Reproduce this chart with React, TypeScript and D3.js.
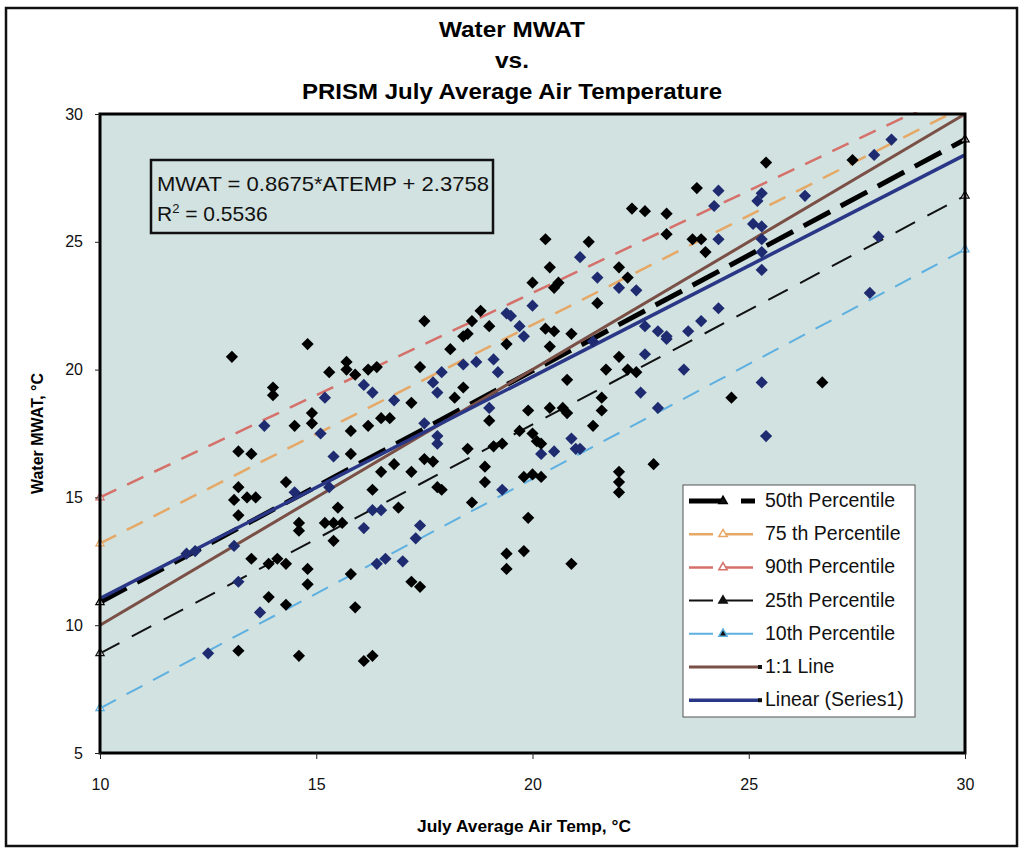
import * as d3 from 'd3';
import React, { useRef, useEffect } from 'react';

// observed sites (black diamonds): [air temp, water MWAT]
const observed = [
  [13.05, 20.5], [14.8, 21.0], [14.0, 19.3], [14.0, 19.0], [15.3, 19.9], [15.7, 20.3], [15.7, 20.0],
  [15.9, 19.8], [16.2, 20.0], [16.4, 20.1], [14.9, 18.3], [14.9, 17.9], [14.5, 17.8], [15.8, 17.6],
  [16.2, 17.8], [16.5, 18.1], [16.7, 18.1], [13.2, 16.8], [13.5, 16.7], [15.8, 16.7], [16.5, 16.0],
  [16.8, 16.3], [13.2, 15.4], [14.3, 15.6], [16.3, 15.3], [13.1, 14.9], [13.4, 15.0], [13.6, 15.0],
  [13.2, 14.3], [14.6, 14.0], [14.6, 13.7], [15.2, 14.0], [15.4, 14.0], [15.6, 14.0], [15.5, 14.6],
  [15.4, 13.3], [13.5, 12.6], [13.9, 12.4], [14.1, 12.6], [14.3, 12.4], [14.8, 12.2], [14.8, 11.6],
  [13.9, 11.1], [14.3, 10.8], [15.8, 12.0], [15.9, 10.7], [13.2, 9.0], [14.6, 8.8], [16.1, 8.6],
  [16.3, 8.8], [17.2, 11.7], [17.4, 11.5], [19.4, 12.8], [19.8, 12.9], [19.4, 12.2], [20.9, 12.4],
  [19.9, 14.2], [18.6, 14.8], [18.9, 15.6], [18.9, 16.2], [17.8, 15.4], [17.9, 15.3], [17.5, 16.5],
  [17.7, 16.4], [17.2, 16.0], [16.9, 14.6], [19.8, 15.8], [20.0, 15.9], [20.2, 15.8], [22.0, 16.0],
  [22.0, 15.6], [22.0, 15.2], [22.8, 16.3], [19.9, 18.4], [20.0, 17.5], [18.5, 16.9], [19.3, 17.1],
  [19.1, 17.0], [20.1, 17.2], [20.2, 17.1], [19.7, 17.6], [21.4, 17.8], [19.0, 18.0], [20.4, 18.5],
  [20.7, 18.5], [20.8, 18.3], [21.6, 18.9], [21.6, 18.4], [18.2, 18.9], [17.2, 18.7], [18.4, 19.3],
  [20.8, 19.6], [21.7, 20.0], [22.2, 20.0], [22.4, 19.9], [22.0, 20.5], [17.4, 20.1], [18.1, 20.8],
  [19.4, 21.0], [18.4, 21.3], [18.5, 21.4], [20.4, 20.9], [20.9, 21.4], [20.3, 21.6], [20.5, 21.5],
  [19.0, 21.7], [17.5, 21.9], [18.8, 22.3], [18.6, 21.9], [21.5, 22.6], [20.0, 23.4], [20.5, 23.2],
  [20.6, 23.4], [20.4, 24.0], [22.0, 24.0], [22.2, 23.6], [20.3, 25.1], [21.3, 25.0], [22.3, 26.3],
  [22.6, 26.2], [23.1, 26.1], [23.1, 25.3], [23.7, 25.1], [23.9, 25.1], [24.0, 24.6], [23.8, 27.1],
  [25.4, 28.1], [27.4, 28.2], [26.7, 19.5], [24.6, 18.9]
];

// navy diamonds
const navyPts = [
  [13.8, 17.8], [15.2, 18.9], [16.1, 19.4], [16.3, 19.1], [16.8, 18.8], [15.1, 17.5], [15.4, 16.6],
  [15.3, 15.4], [14.5, 15.2], [13.2, 11.7], [13.7, 10.5], [12.5, 8.9], [16.4, 12.4], [16.6, 12.6],
  [16.1, 13.8], [16.3, 14.5], [13.1, 13.1], [12.2, 12.9], [12.0, 12.8], [21.1, 24.4], [21.5, 23.6],
  [22.0, 23.2], [22.4, 23.1], [20.0, 22.5], [19.4, 22.2], [19.5, 22.1], [19.7, 21.7], [19.8, 21.3],
  [17.9, 19.9], [17.7, 19.5], [17.8, 19.1], [18.4, 20.2], [18.7, 20.3], [19.1, 20.4], [19.2, 19.9],
  [21.4, 21.1], [22.6, 21.7], [22.9, 21.5], [23.1, 21.2], [22.6, 20.6], [22.5, 19.1], [22.9, 18.5],
  [20.9, 17.3], [21.1, 16.9], [20.5, 16.8], [19.0, 18.5], [17.5, 17.9], [17.8, 17.4], [17.8, 17.1],
  [20.2, 16.7], [21.0, 16.9], [19.3, 15.3], [17.4, 13.9], [17.3, 13.4], [17.0, 12.5], [16.5, 14.5],
  [28.3, 29.0], [27.9, 28.4], [24.3, 27.0], [24.2, 26.4], [25.3, 26.9], [25.2, 26.6], [26.3, 26.8],
  [25.1, 25.7], [25.3, 25.6], [25.3, 25.1], [25.3, 24.6], [25.3, 23.9], [24.3, 25.1], [24.3, 22.4],
  [23.9, 21.9], [23.6, 21.5], [23.1, 21.3], [23.5, 20.0], [25.3, 19.5], [25.4, 17.4], [28.0, 25.2],
  [27.8, 23.0]
];

const lineX = [10, 30];
const p50 = [10.9, 29.0];
const p75 = [13.2, 30.3];
const p90 = [15.0, 31.0];
const p25 = [8.9, 26.8];
const p10 = [6.75, 24.7];
const oneToOne = [10, 30];
const slope = 0.8675;
const intercept = 2.3758;

const xTicks = [10, 15, 20, 25, 30];
const yTicks = [5, 10, 15, 20, 25, 30];

const series = [
  { name: "50th Percentile", vals: p50, color: "#000000", w: 5, dash: "30 12", marker: true },
  { name: "75 th Percentile", vals: p75, color: "#e6a866", w: 2.5, dash: "18 12", marker: true },
  { name: "90th Percentile", vals: p90, color: "#d5706a", w: 2.5, dash: "18 12", marker: true },
  { name: "25th Percentile", vals: p25, color: "#111111", w: 2, dash: "22 14", marker: true },
  { name: "10th Percentile", vals: p10, color: "#5eb0e0", w: 2, dash: "18 12", marker: true },
  { name: "1:1 Line", vals: oneToOne, color: "#7a4f45", w: 3, dash: null, marker: false },
  { name: "Linear (Series1)", vals: lineX.map(v => slope * v + intercept), color: "#2a3686", w: 3.5, dash: null, marker: false },
];

function App() {
  const ref = useRef(null);
  const W = 1023, H = 851;

  useEffect(() => {
    document.body.style.margin = "0";
    const svg = d3.select(ref.current);
    svg.selectAll("*").remove();

    const font = "'Liberation Sans', Arial, sans-serif";
    const x = d3.scaleLinear().domain([10, 30]).range([100, 965]);
    const y = d3.scaleLinear().domain([5, 30]).range([753, 114]);

    // outer frame
    svg.append("rect").attr("x", 6).attr("y", 8).attr("width", 1011).attr("height", 838)
      .attr("fill", "white").attr("stroke", "#111").attr("stroke-width", 2.5);

    // titles
    const titles = ["Water MWAT", "vs.", "PRISM July Average Air Temperature"];
    svg.selectAll(".title").data(titles).enter().append("text")
      .attr("x", 512).attr("y", (d, i) => 37 + i * 31)
      .attr("text-anchor", "middle")
      .style("font-family", font).style("font-weight", "bold").style("font-size", "22px")
      .attr("textLength", (d, i) => [146, 34, 420][i])
      .attr("lengthAdjust", "spacingAndGlyphs")
      .text(d => d);

    // plot background
    svg.append("rect").attr("x", x(10)).attr("y", y(30))
      .attr("width", x(30) - x(10)).attr("height", y(5) - y(30))
      .attr("fill", "#d1e2e0");

    svg.append("clipPath").attr("id", "plotclip").append("rect")
      .attr("x", x(10)).attr("y", y(30) - 2)
      .attr("width", x(30) - x(10) + 2).attr("height", y(5) - y(30) + 2);

    const g = svg.append("g").attr("clip-path", "url(#plotclip)");

    const line = d3.line().x((d: any) => x(d[0])).y((d: any) => y(d[1]));

    // percentile lines + 1:1 + fit
    series.forEach(s => {
      const pts = lineX.map((v, i) => [v, s.vals[i]]);
      g.append("path").datum(pts)
        .attr("d", line as any)
        .attr("fill", "none")
        .attr("stroke", s.color)
        .attr("stroke-width", s.w)
        .attr("stroke-dasharray", s.dash || null);
    });

    const diamond = d3.symbol().type(d3.symbolDiamond2).size(95);

    g.selectAll(".navy").data(navyPts).enter().append("path")
      .attr("d", diamond)
      .attr("transform", d => `translate(${x(d[0])},${y(d[1])})`)
      .attr("fill", "#1f2b70");

    g.selectAll(".obs").data(observed).enter().append("path")
      .attr("d", diamond)
      .attr("transform", d => `translate(${x(d[0])},${y(d[1])})`)
      .attr("fill", "#000");

    // end markers of percentile series
    const tri = d3.symbol().type(d3.symbolTriangle).size(30);
    series.filter(s => s.marker).forEach(s => {
      lineX.forEach((v, i) => {
        if (s.vals[i] <= 30) {
          svg.append("path").attr("d", tri)
            .attr("transform", `translate(${x(v)},${y(s.vals[i])})`)
            .attr("fill", "white").attr("stroke", s.color).attr("stroke-width", 1.2);
        }
      });
    });

    // plot border
    svg.append("rect").attr("x", x(10)).attr("y", y(30))
      .attr("width", x(30) - x(10)).attr("height", y(5) - y(30))
      .attr("fill", "none").attr("stroke", "#000").attr("stroke-width", 3);

    // axes
    const xAxis = svg.append("g").attr("transform", `translate(0,${y(5)})`)
      .call(d3.axisBottom(x).tickValues(xTicks).tickSize(6).tickSizeOuter(0).tickPadding(20));
    const yAxis = svg.append("g").attr("transform", `translate(${x(10)},0)`)
      .call(d3.axisLeft(y).tickValues(yTicks).tickSize(5).tickSizeOuter(0).tickPadding(12));
    [xAxis, yAxis].forEach(a => {
      a.select(".domain").remove();
      a.selectAll("text").style("font-family", font).style("font-size", "16px").attr("fill", "#111");
      a.selectAll("line").attr("stroke", "#222");
    });

    // axis titles
    svg.append("text").attr("x", 524).attr("y", 832).attr("text-anchor", "middle")
      .style("font-family", font).style("font-weight", "bold").style("font-size", "17px")
      .attr("textLength", 214).attr("lengthAdjust", "spacingAndGlyphs")
      .text("July Average Air Temp, °C");
    svg.append("text").attr("transform", `translate(43,${(y(5) + y(30)) / 2}) rotate(-90)`)
      .attr("text-anchor", "middle")
      .style("font-family", font).style("font-weight", "bold").style("font-size", "16px")
      .text("Water MWAT, °C");

    // equation box
    svg.append("rect").attr("x", 151).attr("y", 160).attr("width", 342).attr("height", 73)
      .attr("fill", "none").attr("stroke", "#111").attr("stroke-width", 2.5);
    const eq = svg.append("text").attr("x", 157).attr("y", 191)
      .style("font-family", font).style("font-size", "21px").attr("fill", "#111")
      .attr("textLength", 332).attr("lengthAdjust", "spacingAndGlyphs");
    eq.text(`MWAT = ${slope}*ATEMP + ${intercept}`);
    const r2 = svg.append("text").attr("x", 157).attr("y", 221)
      .style("font-family", font).style("font-size", "21px").attr("fill", "#111");
    r2.append("tspan").text("R");
    r2.append("tspan").attr("dy", -8).style("font-size", "13px").text("2");
    r2.append("tspan").attr("dy", 8).text(" = 0.5536");

    // legend
    const lg = svg.append("g").attr("transform", "translate(683,485)");
    lg.append("rect").attr("width", 232).attr("height", 232)
      .attr("fill", "white").attr("stroke", "#555").attr("stroke-width", 1);
    series.forEach((s, i) => {
      const cy = 16 + i * 33.2;
      lg.append("line").attr("x1", 6).attr("x2", 76).attr("y1", cy).attr("y2", cy)
        .attr("stroke", s.color).attr("stroke-width", s.w)
        .attr("stroke-dasharray", s.dash ? (i === 0 ? "32 20 14" : "24 10 30") : null);
      if (s.marker) {
        lg.append("path").attr("d", tri)
          .attr("transform", `translate(40,${cy})`)
          .attr("fill", i === 1 || i === 2 ? "white" : "#111")
          .attr("stroke", s.color).attr("stroke-width", 1.5);
      } else {
        lg.append("rect").attr("x", 75).attr("y", cy - 2).attr("width", 4).attr("height", 4).attr("fill", "#111");
      }
      lg.append("text").attr("x", 82).attr("y", cy + 6)
        .style("font-family", font).style("font-size", "19.5px").attr("fill", "#111")
        .text(s.name);
    });
  }, []);

  return (
    <div className="chart">
      <svg ref={ref} width={W} height={H} style={{ display: "block" }}></svg>
    </div>
  );
}

export default App;
